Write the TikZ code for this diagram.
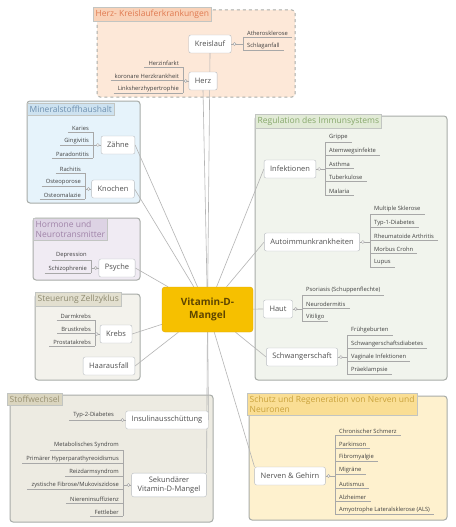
\documentclass[tikz,border=0pt]{standalone}
\usepackage{fontspec}
\setmainfont{Open Sans}
\usepackage{tikz}
\usetikzlibrary{positioning,backgrounds}
\definecolor{cCore}  {HTML}{F6C000}
\definecolor{cCoreD} {HTML}{E2A800}
\definecolor{cCoreX} {HTML}{5E4500}
\definecolor{cEdge}  {HTML}{B8BCC0}
\definecolor{cText}  {HTML}{505050}
\definecolor{cLeaf}  {HTML}{404040}
\definecolor{cTwig}  {HTML}{A8A8A8}
\definecolor{cBranch}{HTML}{B4B4B4}
\definecolor{cFrame} {HTML}{A8ACA8}
\definecolor{gHerz}  {HTML}{FDE8D8}
\definecolor{gHerzT} {HTML}{F9D2B8}
\definecolor{gHerzX} {HTML}{E07A50}
\definecolor{gMin}   {HTML}{E6F3FB}
\definecolor{gMinT}  {HTML}{CDE2F0}
\definecolor{gMinX}  {HTML}{6E90B0}
\definecolor{gHorm}  {HTML}{F0EBF3}
\definecolor{gHormT} {HTML}{DDD3E4}
\definecolor{gHormX} {HTML}{A083A8}
\definecolor{gZell}  {HTML}{F3F2EC}
\definecolor{gZellT} {HTML}{E2DFCF}
\definecolor{gZellX} {HTML}{8E8A70}
\definecolor{gStoff} {HTML}{EDEBE2}
\definecolor{gStoffT}{HTML}{DAD5BF}
\definecolor{gStoffX}{HTML}{9A9272}
\definecolor{gImm}   {HTML}{F1F4ED}
\definecolor{gImmT}  {HTML}{E1EAD6}
\definecolor{gImmX}  {HTML}{86A86A}
\definecolor{gNerv}  {HTML}{FEF1CE}
\definecolor{gNervT} {HTML}{FADE94}
\definecolor{gNervX} {HTML}{C9A23C}
\tikzset{
  vdbox/.style={rounded corners=3pt,draw=cCoreD,fill=cCore,text=cCoreX,align=center,
                font=\fontsize{10}{12.5}\selectfont\bfseries,minimum width=91pt,minimum height=45pt},
  topic/.style={rounded corners=2pt,draw=cEdge,fill=white,text=cText,align=center,
                font=\fontsize{7.5}{9.5}\selectfont,inner xsep=6pt,minimum height=18pt},
  leaf/.style ={font=\fontsize{5.8}{6.8}\selectfont,text=cLeaf,inner xsep=4pt,inner ysep=1.5pt},
  twig/.style ={draw=cTwig,line width=0.5pt},
  knob/.style ={circle,draw=cTwig,fill=white,inner sep=0pt,minimum size=3pt,line width=0.5pt},
  branch/.style={draw=cBranch,line width=0.6pt},
  grp/.style  ={rounded corners=3pt,draw=cFrame,line width=1pt},
  grptitle/.style={draw=cFrame!70,anchor=north west,inner sep=2.5pt,align=left,
                font=\fontsize{8.5}{10.5}\selectfont},
}
% leaves to the right / left of a topic: parent, bar x, first underline y, texts
\newcommand{\twigsR}[4]{%
  \coordinate (#1-bar) at (#2,#3);
  \foreach \t [count=\i, remember=\i as \j (initially 0)] in {#4}{
    \node[leaf,anchor=south west] (#1-\i) at (#2,{#3+13.2*(\i-1)}) {\t};
    \draw[twig] (#1-\i.south west) -- (#1-\i.south east);
    \ifnum\j>0 \draw[twig] (#1-\j.south west) -- (#1-\i.south west); \fi
  }
  \draw[twig] (#1.east) -- (#1.east -| #1-bar);
  \node[knob] (#1-k) at ([xshift=3pt]#1.east) {};
}
\newcommand{\twigsL}[4]{%
  \coordinate (#1-bar) at (#2,#3);
  \foreach \t [count=\i, remember=\i as \j (initially 0)] in {#4}{
    \node[leaf,anchor=south east] (#1-\i) at (#2,{#3+13.2*(\i-1)}) {\t};
    \draw[twig] (#1-\i.south west) -- (#1-\i.south east);
    \ifnum\j>0 \draw[twig] (#1-\j.south east) -- (#1-\i.south east); \fi
  }
  \draw[twig] (#1.west) -- (#1.west -| #1-bar);
  \node[knob] (#1-k) at ([xshift=-3pt]#1.west) {};
}

\begin{document}
\begin{tikzpicture}[x=1pt,y=-1pt]
  \useasboundingbox (0,0) rectangle (455,527);
  \begin{scope}[on background layer]
    \fill[white] (0,0) rectangle (455,527);
    \draw[grp,dashed,fill=gHerz] (97,10) rectangle (295,97);
    \draw[grp,fill=gMin]   (27,101)  rectangle (140,203);
    \draw[grp,fill=gHorm]  (33,218)  rectangle (140,280);
    \draw[grp,fill=gZell]  (35,294)  rectangle (140,380);
    \draw[grp,fill=gStoff] (10,395)  rectangle (213,522);
    \draw[grp,fill=gImm]   (255,116) rectangle (447,380);
    \draw[grp,fill=gNerv]  (249,396) rectangle (447,520);
  \end{scope}

  % group titles
  \node[grptitle,fill=gHerzT,text=gHerzX]   (tHerz)  at (93,7)    {Herz- Kreislauferkrankungen};
  \node[grptitle,fill=gMinT,text=gMinX]     (tMin)   at (27,103)  {Mineralstoffhaushalt};
  \node[grptitle,fill=gHormT,text=gHormX]   (tHorm)  at (33,218)  {Hormone und\\Neurotransmitter};
  \node[grptitle,fill=gZellT,text=gZellX]   (tZell)  at (35,292)  {Steuerung Zellzyklus};
  \node[grptitle,fill=gStoffT,text=gStoffX] (tStoff) at (7,393)   {Stoffwechsel};
  \node[grptitle,fill=gImmT,text=gImmX]     (tImm)   at (255,114) {Regulation des Immunsystems};
  \node[grptitle,fill=gNervT,text=gNervX]   (tNerv)  at (247,393) {Schutz und Regeneration von Nerven und\\Neuronen};

  % topics
  \node[vdbox] (vd) at (207.5,309.5) {Vitamin-D-\\Mangel};
  \node[topic] (kreis)     at (210,44)  {Kreislauf};
  \node[topic] (herz)      at (203,81)  {Herz};
  \node[topic] (zaehne)    at (118,145) {Zähne};
  \node[topic] (knochen)   at (113,189) {Knochen};
  \node[topic] (psyche)    at (117,268) {Psyche};
  \node[topic] (krebs)     at (116,334) {Krebs};
  \node[topic] (haar)      at (109,366) {Haarausfall};
  \node[topic] (insulin)   at (167,420) {Insulinausschüttung};
  \node[topic] (sekund)    at (169,485) {Sekundärer\\Vitamin-D-Mangel};
  \node[topic] (infekt)    at (290,169) {Infektionen};
  \node[topic] (autoimm)   at (312,242) {Autoimmunkrankheiten};
  \node[topic] (haut)      at (278,309) {Haut};
  \node[topic] (schwanger) at (302,357) {Schwangerschaft};
  \node[topic] (nerven)    at (290,476) {Nerven \& Gehirn};

  % leaves
  \twigsR{kreis}{243}{37}{Atherosklerose,Schlaganfall}
  \twigsL{herz}{183}{67}{Herzinfarkt,koronare Herzkrankheit,Linksherzhypertrophie}
  \twigsL{zaehne}{93}{132}{Karies,Gingivitis,Paradontitis}
  \twigsL{knochen}{85}{173}{Rachitis,Osteoporose,Osteomalazie}
  \twigsL{psyche}{91}{260}{Depression,Schizophrenie}
  \twigsL{krebs}{95}{320}{Darmkrebs,Brustkrebs,Prostatakrebs}
  \twigsL{insulin}{118}{420}{Typ-2-Diabetes}
  \twigsL{sekund}{123}{450}{Metabolisches Syndrom,Primärer Hyperparathyreoidismus,Reizdarmsyndrom,zystische Fibrose/Mukoviszidose,Niereninsuffizienz,Fettleber}
  \twigsR{infekt}{325}{142}{Grippe,Atemwegsinfekte,Asthma,Tuberkulose,Malaria}
  \twigsR{autoimm}{370}{214}{Multiple Sklerose,Typ-1-Diabetes,Rheumatoide Arthritis,Morbus Crohn,Lupus}
  \twigsR{haut}{302}{295}{Psoriasis (Schuppenflechte),Neurodermitis,Vitiligo}
  \twigsR{schwanger}{347}{335}{Frühgeburten,Schwangerschaftsdiabetes,Vaginale Infektionen,Präeklampsie}
  \twigsR{nerven}{335}{435}{Chronischer Schmerz,Parkinson,Fibromyalgie,Migräne,Autismus,Alzheimer,Amyotrophe Lateralsklerose (ALS)}

  % branches from the centre
  \begin{scope}[on background layer]
    \draw[branch] (vd) -- (kreis.south);
    \draw[branch] (vd) -- (herz.south);
    \draw[branch] (vd) -- (zaehne.east);
    \draw[branch] (vd) -- (knochen.east);
    \draw[branch] (vd) -- (psyche.east);
    \draw[branch] (vd) -- (krebs.east);
    \draw[branch] (vd) -- (haar.east);
    \draw[branch] (vd) -- (insulin.east);
    \draw[branch] (vd) -- (sekund.north east);
    \draw[branch] (vd) -- (infekt.west);
    \draw[branch] (vd) -- (autoimm.west);
    \draw[branch] (vd) -- (haut.west);
    \draw[branch] (vd) -- (schwanger.west);
    \draw[branch] (vd) -- (nerven.north west);
  \end{scope}
\end{tikzpicture}
\end{document}
